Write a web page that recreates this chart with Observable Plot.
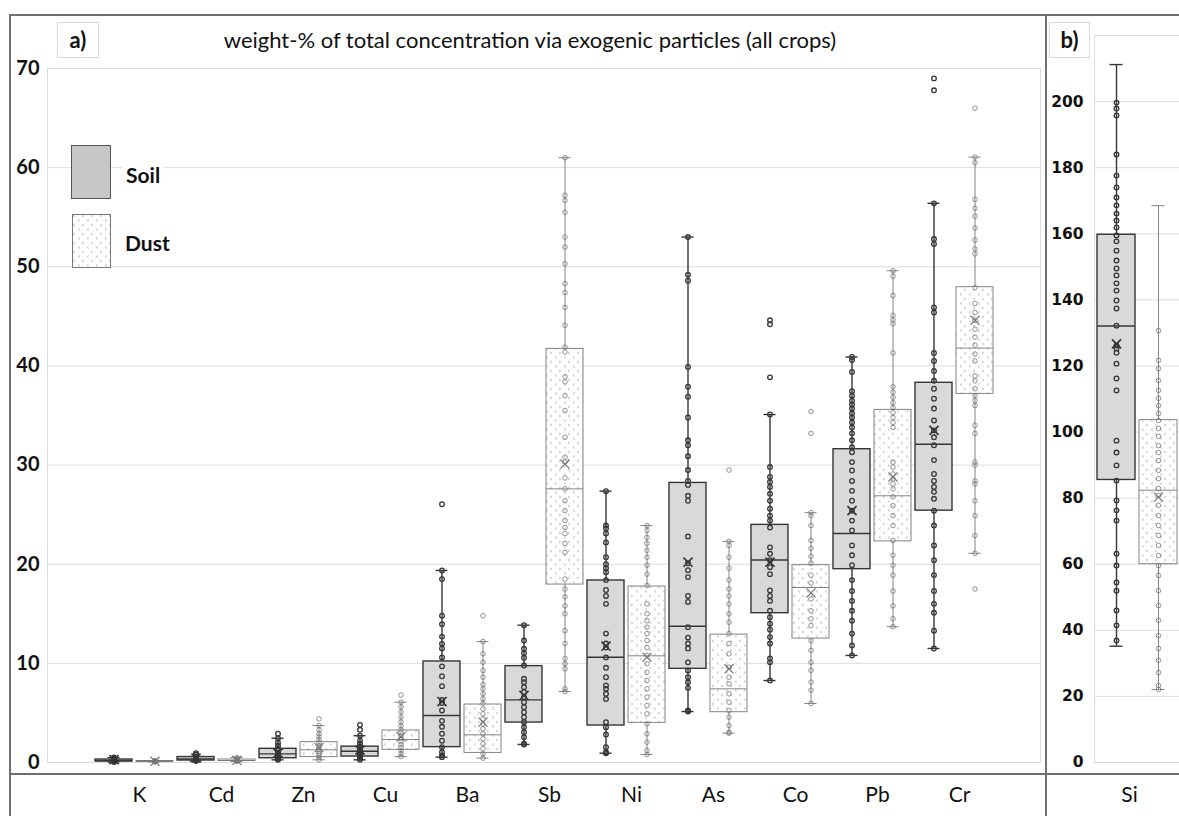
<!DOCTYPE html>
<html><head><meta charset="utf-8">
<script src="https://cdn.jsdelivr.net/npm/d3@7"></script>
<script src="https://cdn.jsdelivr.net/npm/@observablehq/plot@0.6"></script>
<style>
body{margin:0;background:#fff;}
#fig{position:relative;width:1179px;height:816px;overflow:hidden;font-family:Lato,"Open Sans",sans-serif;color:#111;}
#fig > svg, #fig > div.plot{position:absolute;top:0;}
.ln{position:absolute;background:#707070;}
.tag{position:absolute;border:1px solid #d9d9d9;background:#fff;font:bold 22px Lato,sans-serif;text-align:center;line-height:34px;box-sizing:border-box;}
.leg{position:absolute;font:bold 21px Lato,sans-serif;background:#fff;padding:0 4px;line-height:26px;}
.pa [aria-label^="y-axis"] text{font:bold 20px Lato,sans-serif;fill:#111;}
.pb [aria-label^="y-axis"] text{font:bold 15.5px "DejaVu Sans",sans-serif;fill:#111;}
.pa [aria-label^="x-axis"] text, .pb [aria-label^="x-axis"] text{font:21px Lato,sans-serif;fill:#111;}
</style></head><body>
<svg width="0" height="0" style="position:absolute">
 <defs>
  <pattern id="dust" width="9" height="9" patternUnits="userSpaceOnUse">
   <rect width="9" height="9" fill="#fff"/>
   <path d="M1,1 L2.8,2 L1,3" stroke="#a8a8a8" stroke-width="0.6" fill="none"/>
   <path d="M7.8,5.5 L6,6.5 L7.8,7.5" stroke="#a8a8a8" stroke-width="0.6" fill="none"/>
  </pattern>
 </defs>
</svg>
<div id="fig">
 <div id="pa" class="plot" style="left:0"></div>
 <div id="pb" class="plot" style="left:1046px"></div>
 <div style="position:absolute;left:0;width:1060px;top:26px;text-align:center;font:22px Lato,sans-serif;white-space:nowrap;">weight-% of total concentration via exogenic particles (all crops)</div>
 <div class="tag" style="left:57px;top:22px;width:42px;height:36px;">a)</div>
 <div class="tag" style="left:1049px;top:22px;width:41px;height:36px;">b)</div>
 <div style="position:absolute;left:71px;top:145px;width:38px;height:52px;background:#c6c6c6;border:1px solid #555;"></div>
 <svg style="position:absolute;left:72px;top:214px" width="40" height="56"><rect x="0.5" y="0.5" width="38" height="53" fill="url(#dust)" stroke="#777"/></svg>
 <div class="leg" style="left:122px;top:162px;">Soil</div>
 <div class="leg" style="left:121px;top:230px;">Dust</div>
 <div class="ln" style="left:10px;top:14px;width:1169px;height:2px;"></div>
 <div class="ln" style="left:9px;top:14px;width:2px;height:802px;"></div>
 <div class="ln" style="left:1045px;top:14px;width:2px;height:802px;"></div>
 <div class="ln" style="left:10px;top:773px;width:1169px;height:1.5px;"></div>
</div>
<script>
// ---------- data ----------
const elements = ["K","Cd","Zn","Cu","Ba","Sb","Ni","As","Co","Pb","Cr"];
const yTicksA = [0,10,20,30,40,50,60,70];
const yTicksB = [0,20,40,60,80,100,120,140,160,180,200];

const soilMin    = [0.05,0.15,0.27,0.27,0.54,1.82,0.94,5.14,8.27,10.8,11.5];
const soilQ1     = [0.1,0.2,0.43,0.6,1.55,4.03,3.73,9.45,15.06,19.5,25.4];
const soilMedian = [0.2,0.35,0.87,1.14,4.74,6.32,10.62,13.75,20.43,23.1,32.1];
const soilQ3     = [0.3,0.55,1.38,1.6,10.19,9.72,18.36,28.2,23.97,31.6,38.3];
const soilMax    = [0.5,0.6,2.45,2.7,19.37,13.85,27.37,53.0,35.1,40.9,56.4];
const soilMean   = [0.3,0.45,0.95,1.25,6.15,6.76,11.73,20.2,20.2,25.4,33.5];

const dustMin    = [0.05,0.1,0.27,0.6,0.44,7.16,0.81,2.96,5.95,13.7,21.1];
const dustQ1     = [0.08,0.15,0.54,1.28,0.97,17.95,4.0,5.07,12.5,22.3,37.18];
const dustMedian = [0.1,0.2,1.28,2.32,2.79,27.6,10.76,7.43,17.65,26.9,41.8];
const dustQ3     = [0.15,0.3,2.05,3.23,5.85,41.72,17.75,12.9,19.9,35.57,47.94];
const dustMax    = [0.2,0.5,3.73,6.08,12.2,61.0,23.9,22.3,25.2,49.6,61.06];
const dustMean   = [0.12,0.22,1.5,2.6,4.07,30.1,10.6,9.45,17.1,28.8,44.6];

const siElement = "Si";
const siMin    = [35.2, 22.1];   // [soil, dust]
const siQ1     = [85.5, 60.0];
const siMedian = [132.1, 82.4];
const siQ3     = [159.7, 103.6];
const siMax    = [211.2, 168.5];
const siMean   = [126.7, 80.3];

const soilPtsK  = [0.05,0.1,0.15,0.2,0.2,0.25,0.3,0.4,0.5];
const dustPtsK  = [0.05,0.08,0.1,0.12,0.15,0.2];
const soilPtsCd = [0.15,0.2,0.3,0.35,0.4,0.5,0.6,0.8,0.95];
const dustPtsCd = [0.1,0.15,0.2,0.25,0.3,0.4,0.5];
const soilPtsZn = [0.27,0.35,0.45,0.55,0.65,0.8,0.9,1.0,1.2,1.4,1.7,2.0,2.45,2.9];
const dustPtsZn = [0.27,0.5,0.7,0.9,1.1,1.3,1.5,1.7,2.0,2.3,2.6,2.9,3.3,3.73,4.4];
const soilPtsCu = [0.27,0.45,0.6,0.8,1.0,1.15,1.3,1.6,1.9,2.2,2.7,3.3,3.8];
const dustPtsCu = [0.6,0.9,1.2,1.5,1.8,2.1,2.4,2.7,3.0,3.3,3.7,4.1,4.6,5.1,5.6,6.08,6.8];
const soilPtsBa = [0.54,0.7,1.04,1.55,2.2,2.9,3.6,4.2,5.25,6.0,6.3,7.7,8.7,9.7,10.6,11.5,11.97,12.7,13.95,14.8,18.5,19.37,26.05];
const dustPtsBa = [0.44,0.88,1.38,1.89,2.39,2.9,3.4,3.9,4.4,4.91,5.41,5.98,6.42,6.93,7.43,7.87,8.6,9.28,10.1,10.96,12.2,14.8];
const soilPtsSb = [1.82,1.89,2.55,3.06,3.56,4.07,4.57,5.07,5.58,6.08,6.59,7.09,7.6,8.1,8.44,9.78,10.56,11.03,11.47,12.3,13.85];
const dustPtsSb = [7.16,7.43,9.45,9.96,10.5,12.0,13.3,15.0,15.8,16.7,17.5,18.5,21.2,22.1,23.1,23.7,24.4,25.4,26.4,27.6,28.7,30.3,30.8,32.8,35.5,37.0,38.4,38.9,41.4,41.9,44.1,45.9,47.4,48.3,50.3,52.0,53.0,55.5,56.7,57.2,61.0];
const soilPtsNi = [0.94,1.04,1.55,2.82,3.56,4.07,6.4,6.93,7.43,7.77,8.6,9.55,10.6,11.6,12.0,13.0,16.0,16.8,17.4,18.4,19.2,19.6,20.0,20.7,22.2,23.1,23.6,23.9,27.37];
const dustPtsNi = [0.81,1.21,2.05,2.9,3.9,4.91,5.75,6.59,7.43,8.27,9.1,9.96,10.8,11.6,12.3,13.0,13.65,14.3,15.0,16.0,17.85,19.0,19.9,20.7,21.4,22.1,22.7,23.4,23.9];
const soilPtsAs = [5.14,5.25,7.53,8.1,8.6,9.28,10.1,11.5,12.0,12.6,13.65,16.2,16.8,18.7,19.4,20.1,22.8,26.4,26.9,28.0,28.4,29.5,30.9,32.0,32.5,34.8,36.9,37.9,39.9,48.6,49.2,53.0];
const dustPtsAs = [2.96,3.06,3.73,4.57,5.25,6.08,6.93,7.94,8.6,9.6,10.96,12.0,13.0,14.15,15.0,16.0,16.8,17.5,18.4,19.6,20.7,21.9,22.3,29.5];
const soilPtsCo = [8.27,10.1,10.5,12.0,12.65,13.4,14.0,14.65,15.3,16.3,16.8,17.35,19.0,19.7,20.4,21.05,21.7,23.7,24.4,24.9,25.6,26.4,27.1,27.8,28.3,28.8,29.8,35.1,38.85,44.2,44.6];
const dustPtsCo = [5.95,7.3,8.1,9.3,10.1,11.3,12.3,13.8,14.5,15.3,16.5,18.1,18.9,20.1,20.8,21.6,22.4,23.9,24.9,25.2,33.2,35.4];
const soilPtsPb = [10.8,11.8,13.0,14.3,15.3,16.3,17.3,18.4,19.9,20.9,21.9,23.4,24.4,25.4,26.4,27.4,28.4,29.45,30.3,31.3,31.8,32.5,33.2,33.8,34.3,34.8,35.2,35.7,36.1,36.5,37.0,37.45,39.4,40.6,40.9];
const dustPtsPb = [13.7,14.5,15.8,17.3,18.9,19.9,20.9,22.4,23.9,24.9,25.9,26.8,27.6,28.1,28.6,29.1,29.8,30.3,33.8,34.3,34.8,35.3,35.8,36.3,36.85,37.35,37.9,41.3,44.25,44.65,45.1,47.1,49.05,49.6];
const soilPtsCr = [11.5,13.3,15.1,16.0,17.3,18.9,20.4,21.9,23.9,25.4,26.6,27.3,27.8,28.4,29.1,30.5,32.0,32.8,33.5,34.5,35.7,36.7,37.7,38.5,39.5,40.5,41.3,45.4,45.9,52.3,52.8,56.4,67.8,69.0];
const dustPtsCr = [17.5,21.1,22.9,24.9,26.4,28.1,28.4,30.0,30.3,33.2,34.0,36.0,36.5,37.0,37.7,38.5,39.0,40.5,41.2,42.1,42.9,43.7,44.6,45.4,46.3,47.9,51.3,51.8,52.7,53.9,55.1,55.9,56.8,60.5,61.06,66.0];
const siSoilPts = [36.9,41.5,46,52,54.5,59.6,63.2,73.2,76.3,79.3,85.3,89.9,93.8,97.4,112.6,116.2,120.7,124,125.3,126.2,132.2,137.4,139.8,142.8,145,147.4,149.5,151.9,154.9,157.7,159.5,161.9,164,166.1,168.6,171,174,177.6,184,195.8,197.9,199.7];
const siDustPts = [22.1,23.3,27.2,30.9,34.5,38.4,43,47.5,52,56.6,59.6,62.6,65.7,68.7,71.7,74.7,77.8,80.8,82.9,85.9,88.4,91.4,93.8,95.9,98.7,101.1,103.5,105.6,108,110.2,112.6,115.6,119.2,121.7,130.7];

// ---------- tables built from the arrays ----------
const soilPoints = [soilPtsK,soilPtsCd,soilPtsZn,soilPtsCu,soilPtsBa,soilPtsSb,soilPtsNi,soilPtsAs,soilPtsCo,soilPtsPb,soilPtsCr];
const dustPoints = [dustPtsK,dustPtsCd,dustPtsZn,dustPtsCu,dustPtsBa,dustPtsSb,dustPtsNi,dustPtsAs,dustPtsCo,dustPtsPb,dustPtsCr];
const key = (e, t) => e + "|" + t;
const keysA = elements.flatMap(e => [key(e,"Soil"), key(e,"Dust")]);
const soilKeysA = elements.map(e => key(e,"Soil"));
const rowsOf = (t, mn, q1, md, q3, mx, mean) => elements.map((e,i) => ({key:key(e,t), min:mn[i], q1:q1[i], med:md[i], q3:q3[i], max:mx[i], mean:mean[i]}));
const soilRows = rowsOf("Soil", soilMin, soilQ1, soilMedian, soilQ3, soilMax, soilMean);
const dustRows = rowsOf("Dust", dustMin, dustQ1, dustMedian, dustQ3, dustMax, dustMean);
const soilPtRows = elements.flatMap((e,i) => soilPoints[i].map(v => ({key:key(e,"Soil"), v})));
const dustPtRows = elements.flatMap((e,i) => dustPoints[i].map(v => ({key:key(e,"Dust"), v})));
const siRows = ["Soil","Dust"].map((t,i) => ({key:key(siElement,t), min:siMin[i], q1:siQ1[i], med:siMedian[i], q3:siQ3[i], max:siMax[i], mean:siMean[i]}));
const siSoilPtRows = siSoilPts.map(v => ({key:key(siElement,"Soil"), v}));
const siDustPtRows = siDustPts.map(v => ({key:key(siElement,"Dust"), v}));

const SOIL = {stroke:"#363636", fill:"#d9d9d9", w:1.4, ptw:1.3};
const DUST = {stroke:"#777777", fill:"url(#dust)", w:0.9, ptw:0.8};

function boxMarks(rows, pts, S){
  const cap = {x:"key", stroke:S.stroke, strokeWidth:S.w, insetLeft:12.5, insetRight:12.5};
  return [
    Plot.ruleX(rows, {x:"key", y1:"min", y2:"max", stroke:S.stroke, strokeWidth:S.w}),
    Plot.tickY(rows, {...cap, y:"min"}),
    Plot.tickY(rows, {...cap, y:"max"}),
    Plot.barY(rows, {x:"key", y1:"q1", y2:"q3", fill:S.fill, stroke:S.stroke, strokeWidth:S.w}),
    Plot.tickY(rows, {x:"key", y:"med", stroke:S.stroke, strokeWidth:S.w}),
    Plot.dot(pts, {x:"key", y:"v", r:2.3, fill:"none", stroke:S.stroke, strokeWidth:S.ptw}),
    Plot.dot(rows, {x:"key", y:"mean", symbol:"times", r:4.2, fill:"none", stroke:S.stroke, strokeWidth:S.w + 0.3})
  ];
}

const plotA = Plot.plot({
  className:"pa", width:1046, height:816,
  marginTop:68, marginBottom:54, marginLeft:47, marginRight:6,
  style:{background:"transparent", fontFamily:"Lato", overflow:"visible"},
  x:{domain:keysA, paddingInner:0.1, paddingOuter:1.105, ticks:soilKeysA, tickFormat:k => k.split("|")[0], tickSize:0, tickPadding:25, label:null},
  y:{domain:[0,70], ticks:yTicksA, tickSize:0, tickPadding:8, label:null},
  marks:[
    Plot.ruleY(yTicksA, {stroke:"#dcdcdc"}),
    Plot.frame({stroke:"#dcdcdc"}),
    ...boxMarks(soilRows, soilPtRows, SOIL),
    ...boxMarks(dustRows, dustPtRows, DUST)
  ]
});
document.getElementById("pa").appendChild(plotA);

const plotB = Plot.plot({
  className:"pb", width:133, height:816,
  marginTop:35, marginBottom:54, marginLeft:48, marginRight:0,
  style:{background:"transparent", fontFamily:"Lato", overflow:"visible"},
  x:{domain:siRows.map(d => d.key), paddingInner:0.1, paddingOuter:0.06, ticks:[siRows[0].key], tickFormat:k => k.split("|")[0], tickSize:0, tickPadding:25, label:null},
  y:{domain:[0,220], ticks:yTicksB, tickSize:0, tickPadding:11, label:null},
  marks:[
    Plot.ruleY(yTicksB, {stroke:"#dcdcdc"}),
    Plot.frame({stroke:"#dcdcdc"}),
    ...boxMarks([siRows[0]], siSoilPtRows, SOIL),
    ...boxMarks([siRows[1]], siDustPtRows, DUST)
  ]
});
document.getElementById("pb").appendChild(plotB);

// element labels sit between the soil and dust boxes of each pair
const stepA = plotA.scale("x").step;
d3.select(plotA).selectAll('[aria-label^="x-axis"] text').attr("dx", stepA / 2 + 5);
const stepB = plotB.scale("x").step;
d3.select(plotB).selectAll('[aria-label^="x-axis"] text').attr("dx", stepB / 2 - 8);
</script>
</body></html>
